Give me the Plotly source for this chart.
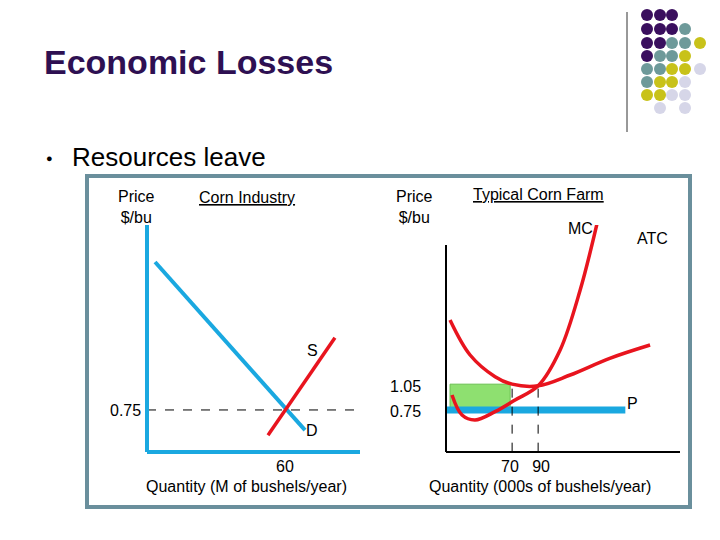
import plotly.graph_objects as go

W, H = 720, 540
OFF = 8
def px(x): return (x - OFF) / W
def py(y): return 1 - (y - OFF) / H

# Left panel: corn industry
dem_q = [3.5, 68.7]; dem_p = [3.39, 0.39]
sup_q = [81.7, 52.6]; sup_p = [2.04, 0.30]
eq_q, eq_p = 60, 0.75
# Right panel: typical farm
mc_q = [23.8, 31.5, 41.5, 56.9, 72.3, 90, 106.9, 122.3, 136.2]
mc_p = [0.93, 0.69, 0.63, 0.73, 0.87, 1.04, 1.47, 2.19, 3.05]
atc_q = [22.3, 37.7, 56.9, 70, 90, 114.6, 145, 176]
atc_p = [1.83, 1.41, 1.15, 1.06, 1.04, 1.17, 1.37, 1.53]
price_p = 0.75
q_firm = [70, 90]
atc_at_q = 1.05

fig = go.Figure()
blue = "#1aa8e0"; red = "#e8141e"
fig.add_trace(go.Scatter(x=dem_q, y=dem_p, mode="lines", line=dict(color=blue, width=4), xaxis="x", yaxis="y"))
fig.add_trace(go.Scatter(x=sup_q, y=sup_p, mode="lines", line=dict(color=red, width=3.5), xaxis="x", yaxis="y"))
fig.add_trace(go.Scatter(x=[0, 100], y=[eq_p, eq_p], mode="lines", line=dict(color="black", width=1, dash="dash"), xaxis="x", yaxis="y"))
fig.add_trace(go.Scatter(x=[22.3, 68.5, 68.5, 22.3, 22.3], y=[0.78, 0.78, atc_at_q + 0.01, atc_at_q + 0.01, 0.78], fill="toself",
                         fillcolor="#8ee070", line=dict(color="#6ac050", width=1), mode="lines", xaxis="x2", yaxis="y2"))
fig.add_trace(go.Scatter(x=[19.2, 157], y=[price_p, price_p], mode="lines", line=dict(color=blue, width=7), xaxis="x2", yaxis="y2"))
fig.add_trace(go.Scatter(x=atc_q, y=atc_p, mode="lines", line=dict(color=red, width=3.5, shape="spline"), xaxis="x2", yaxis="y2"))
fig.add_trace(go.Scatter(x=mc_q, y=mc_p, mode="lines", line=dict(color=red, width=3.5, shape="spline"), xaxis="x2", yaxis="y2"))
for q in q_firm:
    fig.add_trace(go.Scatter(x=[q, q], y=[0.25, atc_at_q], mode="lines", line=dict(color="black", width=1, dash="dash"), xaxis="x2", yaxis="y2"))

ax = dict(showgrid=False, zeroline=False, showticklabels=False, ticks="")
fig.update_layout(
    width=W, height=H, margin=dict(l=0, r=0, t=0, b=0), showlegend=False,
    paper_bgcolor="white", plot_bgcolor="rgba(0,0,0,0)",
    xaxis=dict(domain=[px(147), px(360)], range=[0, 92.6], **ax),
    yaxis=dict(domain=[py(452), py(225)], range=[0, 4.05], **ax),
    xaxis2=dict(domain=[px(446), px(680)], range=[19.2, 199], **ax),
    yaxis2=dict(domain=[py(452), py(225)], range=[0.246, 2.97], **ax),
)
shapes = [
    dict(type="rect", xref="paper", yref="paper", x0=px(87), x1=px(690), y0=py(507), y1=py(176),
         line=dict(color="#6a8f9c", width=4), layer="below"),
    dict(type="line", xref="paper", yref="paper", x0=px(147), x1=px(147), y0=py(452), y1=py(225), line=dict(color=blue, width=4)),
    dict(type="line", xref="paper", yref="paper", x0=px(147), x1=px(360), y0=py(452), y1=py(452), line=dict(color=blue, width=4)),
    dict(type="line", xref="paper", yref="paper", x0=px(446), x1=px(446), y0=py(452), y1=py(245), line=dict(color="black", width=2)),
    dict(type="line", xref="paper", yref="paper", x0=px(446), x1=px(680), y0=py(452), y1=py(452), line=dict(color="black", width=2)),
    dict(type="line", xref="paper", yref="paper", x0=px(627), x1=px(627), y0=py(132), y1=py(12), line=dict(color="#333", width=1)),
]
Pc, Tc, Yc, Lc = "#3a0f5e", "#6e9a9a", "#c8c21a", "#d6d6e8"
grid = ["PPP", "PPPT", "PPTTY", "PTTY", "TTYYL", "TYYL", "YYLL", "_L_L"]
cmap = {"P": Pc, "T": Tc, "Y": Yc, "L": Lc}
xs = [647, 660, 672, 685, 700]; ys = [15, 29, 43, 56, 69, 82, 95, 108]
for r, row in enumerate(grid):
    for c, ch in enumerate(row):
        if ch == "_": continue
        x, y = xs[c], ys[r]
        shapes.append(dict(type="circle", xref="paper", yref="paper", x0=px(x - 6), x1=px(x + 6), y0=py(y + 6), y1=py(y - 6),
                           fillcolor=cmap[ch], line=dict(width=0)))
fig.update_layout(shapes=shapes)

F = "Liberation Sans, Arial"
def t(x, y, s, size=16, color="black", anchor="center", **k):
    fig.add_annotation(xref="paper", yref="paper", x=px(x), y=py(y), text=s, showarrow=False,
                       font=dict(family=F, size=size, color=color), xanchor=anchor, yanchor="middle", **k)
t(42, 62, "<b>Economic Losses</b>", 34, "#2e1052", "left")
t(44, 158, "●", 11, "black", "left")
t(70, 157, "Resources leave", 26, "black", "left")
t(136, 207, "Price<br>$/bu", 16)
t(247, 197, "<u>Corn Industry</u>", 16)
t(414, 207, "Price<br>$/bu", 16)
t(538, 194, "<u>Typical Corn Farm</u>", 16)
t(580, 229, "MC", 16); t(652, 238, "ATC", 16)
t(312, 350, "S", 16); t(312, 430, "D", 16)
t(125, 410, "0.75", 16); t(405, 386, "1.05", 16); t(405, 411, "0.75", 16)
t(632, 403, "P", 16)
t(285, 466, "60", 16); t(246, 486, "Quantity (M of bushels/year)", 16)
t(525, 466, "70   90", 16); t(540, 486, "Quantity (000s of bushels/year)", 16)

fig.write_html("out.html")
